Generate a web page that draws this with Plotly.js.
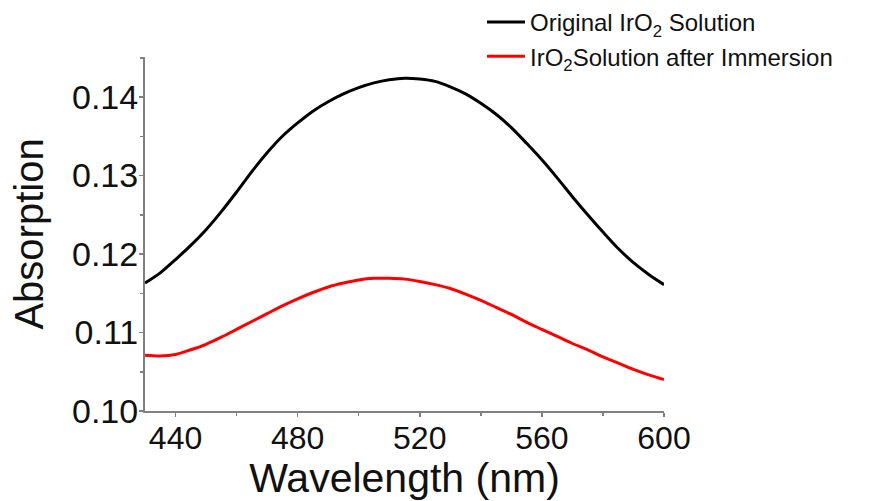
<!DOCTYPE html>
<html>
<head>
<meta charset="utf-8">
<script src="https://cdn.plot.ly/plotly-3.0.1.min.js"></script>
<style>html,body{margin:0;padding:0;background:#fff;}#chart{width:877px;height:501px;}</style>
</head>
<body>
<div id="chart"></div>
<script>
// Wavelength (nm)
const wavelength = [430,435,440,445,450,455,460,465,470,475,480,485,490,495,500,505,510,515,520,525,530,535,540,545,550,555,560,565,570,575,580,585,590,595,600];
// Original IrO2 solution absorption
const originalAbs = [0.1163,0.1176,0.1193,0.1211,0.1231,0.1254,0.1279,0.1305,0.1329,0.1350,0.1367,0.1382,0.1394,0.1404,0.1412,0.1418,0.1422,0.1424,0.1423,0.1420,0.1413,0.1404,0.1392,0.1378,0.1361,0.1341,0.1320,0.1297,0.1273,0.1250,0.1228,0.1207,0.1189,0.1174,0.1161];
// IrO2 solution after immersion absorption
const immersedAbs = [0.1071,0.1070,0.1072,0.1078,0.1085,0.1094,0.1104,0.1114,0.1124,0.1134,0.1143,0.1151,0.1158,0.1163,0.1167,0.1169,0.1169,0.1168,0.1165,0.1161,0.1156,0.1149,0.1141,0.1132,0.1123,0.1113,0.1104,0.1095,0.1086,0.1078,0.1069,0.1061,0.1053,0.1046,0.1040];
const seriesNames = ['Original IrO<sub>2</sub> Solution', 'IrO<sub>2</sub>Solution after Immersion'];
const xTicks = [440,480,520,560,600];
const yTicks = [0.10,0.11,0.12,0.13,0.14];

const font = 'Liberation Sans, Arial, sans-serif';
const traces = [
  {x: wavelength, y: originalAbs, name: seriesNames[0], type: 'scatter', mode: 'lines',
   line: {color: '#000000', width: 3, shape: 'spline', smoothing: 0.8}, legendgroup: 'a'},
  {x: wavelength, y: immersedAbs, name: seriesNames[1], type: 'scatter', mode: 'lines',
   line: {color: '#ff0000', width: 3, shape: 'spline', smoothing: 0.8}, legendgroup: 'b'}
];
const layout = {
  width: 877, height: 501,
  margin: {l: 145, r: 213, t: 57, b: 90, pad: 0, autoexpand: false},
  paper_bgcolor: '#ffffff', plot_bgcolor: '#ffffff',
  font: {family: font, color: '#111111'},
  showlegend: true,
  legend: {
    xref: 'container', yref: 'container',
    x: 482/877, y: 1 + 2/501, xanchor: 'left', yanchor: 'top',
    font: {size: 24, family: font, color: '#111111'},
    bgcolor: 'rgba(0,0,0,0)', borderwidth: 0,
    tracegroupgap: 0, itemwidth: 38
  },
  xaxis: {
    range: [430, 600],
    tickvals: xTicks, ticktext: xTicks.map(String),
    ticks: 'outside', ticklen: 4, tickwidth: 1.5, tickcolor: '#808080',
    ticklabelstandoff: -6,
    minor: {dtick: 20, tick0: 440, ticks: 'outside', ticklen: 3, tickwidth: 1.5, tickcolor: '#808080'},
    showline: true, linecolor: '#808080', linewidth: 2,
    showgrid: false, zeroline: false,
    tickfont: {size: 32, family: font, color: '#111111'},
    title: {text: 'Wavelength (nm)', font: {size: 41, family: font, color: '#111111'}, standoff: 0}
  },
  yaxis: {
    range: [0.10, 0.1451],
    tickvals: yTicks, ticktext: yTicks.map(v => v.toFixed(2)),
    ticks: 'outside', ticklen: 4, tickwidth: 1.5, tickcolor: '#808080',
    ticklabelstandoff: -6,
    minor: {dtick: 0.005, tick0: 0.10, ticks: 'outside', ticklen: 3, tickwidth: 1.5, tickcolor: '#808080'},
    showline: true, linecolor: '#808080', linewidth: 2,
    showgrid: false, zeroline: false,
    tickfont: {size: 34, family: font, color: '#111111'},
    title: {text: 'Absorption', font: {size: 40, family: font, color: '#111111'}, standoff: 16}
  }
};
Plotly.newPlot('chart', traces, layout, {displayModeBar: false, staticPlot: true});
</script>
</body>
</html>
